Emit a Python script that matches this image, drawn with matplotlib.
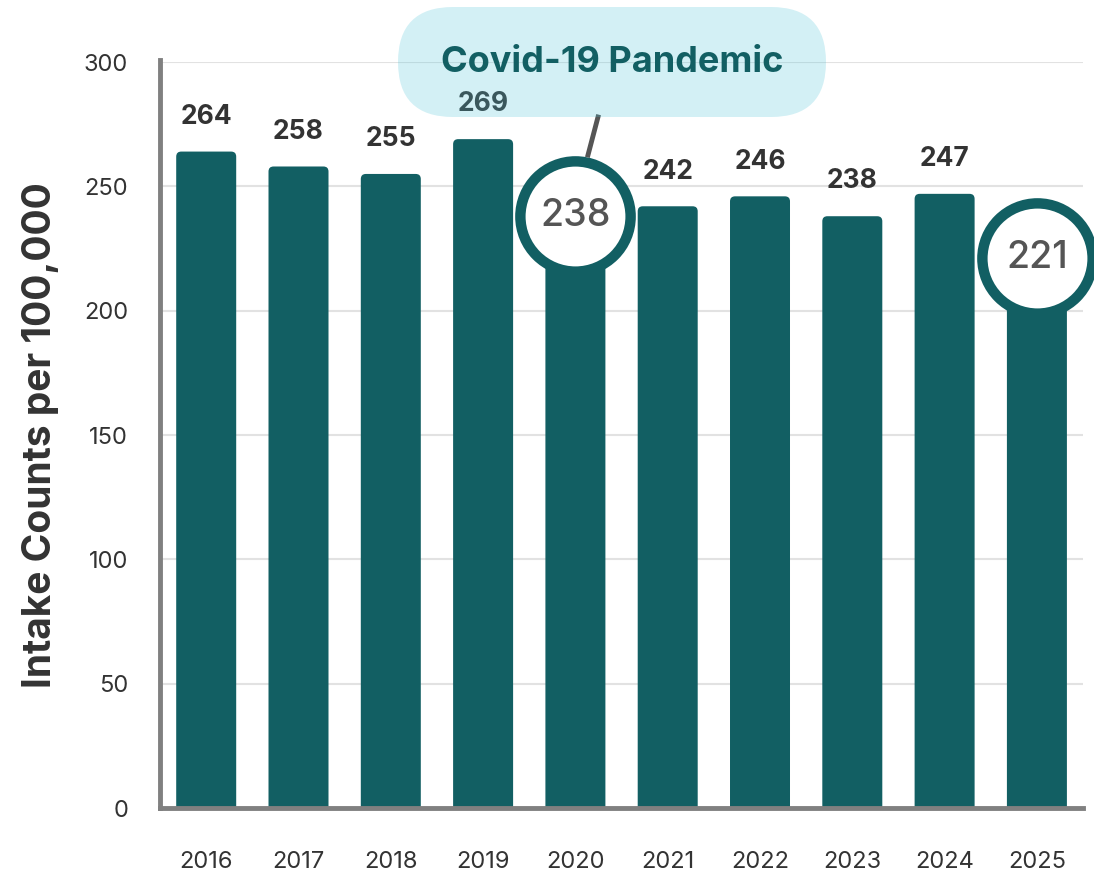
import matplotlib
matplotlib.use('Agg')
import matplotlib.pyplot as plt
from matplotlib.patches import FancyBboxPatch

plt.rcParams['font.family'] = ['Inter', 'DejaVu Sans']

years = ['2016', '2017', '2018', '2019', '2020', '2021', '2022', '2023', '2024', '2025']
counts = [264, 258, 255, 269, 238, 242, 246, 238, 247, 221]
circled = ['2020', '2025']
callout_text = 'Covid-19 Pandemic'
yticks = [0, 50, 100, 150, 200, 250, 300]

teal = '#125f63'
dark = '#333333'
bar_w = 0.65

fig = plt.figure(figsize=(10.94, 8.74), dpi=100)
ax = fig.add_axes([0.1463, 0.0755, 0.8437, 0.8535])
ax.set_xlim(-0.5, 9.5)
ax.set_ylim(0, 300)

x = list(range(len(years)))

# bars with slightly rounded tops (bottom corners hidden below the axis)
for i, v in zip(x, counts):
    bar = FancyBboxPatch((i - bar_w / 2, -6), bar_w, v + 6,
                         boxstyle='round,pad=0,rounding_size=0.055',
                         mutation_aspect=37, facecolor=teal,
                         edgecolor='none', zorder=2)
    ax.add_patch(bar)

# labels above normal bars, circles on the highlighted ones
for i, (yr, v) in enumerate(zip(years, counts)):
    if yr in circled:
        ax.scatter([i], [v], s=6300, facecolor='white', edgecolor=teal,
                   linewidth=7.5, zorder=4, clip_on=False)
        ax.text(i, v, str(v), ha='center', va='center', fontsize=27,
                color='#555555', fontweight='medium', zorder=5)
    else:
        ax.annotate(str(v), (i, v), xytext=(0, 25), textcoords='offset points',
                    ha='center', va='center', fontsize=19, fontweight='bold',
                    color=dark, zorder=3)

ax.set_xticks(x)
ax.set_xticklabels(years)
ax.set_yticks(yticks)
ax.tick_params(axis='both', length=0, labelsize=17, labelcolor=dark)
ax.tick_params(axis='x', pad=31)
ax.tick_params(axis='y', pad=23)
ax.grid(axis='y', color='#e2e2e2', linewidth=1.5, zorder=0)
ax.set_axisbelow(True)

for s in ['top', 'right']:
    ax.spines[s].set_visible(False)
for s in ['left', 'bottom']:
    ax.spines[s].set_color('#808080')
    ax.spines[s].set_linewidth(3.5)
    ax.spines[s].set_zorder(6)
ax.spines['left'].set_bounds(0, 301)

ax.set_ylabel('Intake Counts per 100,000', fontsize=28, fontweight='bold',
              color=dark, labelpad=18)

# callout pill (in inches from the bottom-left of the figure)
pill = FancyBboxPatch((3.98, 7.57), 4.28, 1.10,
                      boxstyle='round,pad=0,rounding_size=0.55',
                      transform=fig.dpi_scale_trans, facecolor='#50c4d8',
                      edgecolor='none', alpha=0.25, zorder=10)
fig.add_artist(pill)
fig.text(6.12 / 10.94, 1 - 62 / 874, callout_text, ha='center', va='center',
         fontsize=26, fontweight='bold', color=teal, zorder=11)
fig.add_artist(plt.Line2D([5.98 / 10.94, 5.88 / 10.94],
                          [1 - 117 / 874, 1 - 155 / 874],
                          color='#555555', linewidth=3.5, zorder=3))

fig.savefig('out.png', dpi=100)
